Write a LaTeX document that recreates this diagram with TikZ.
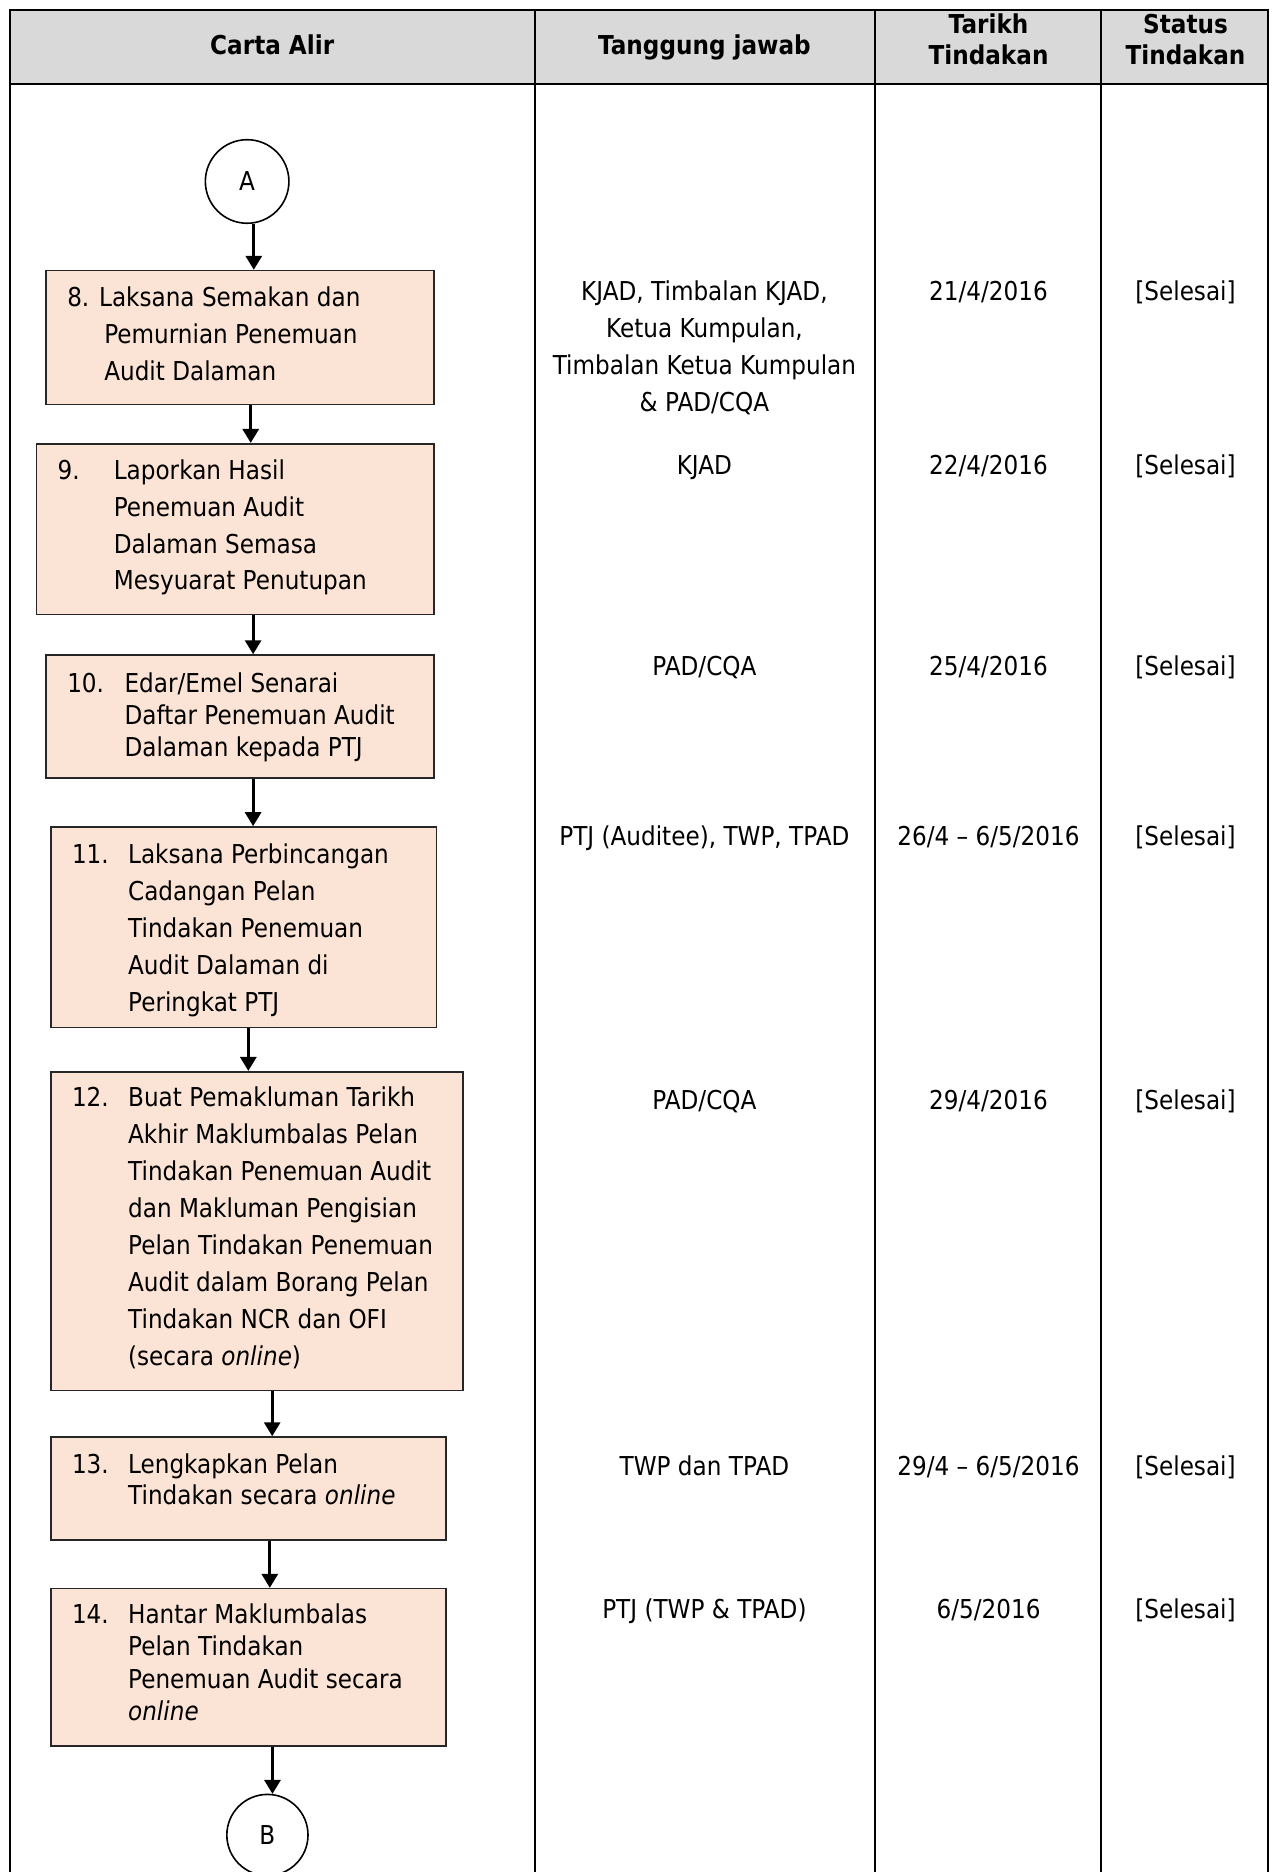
\documentclass[tikz,border=0pt]{standalone}
\usepackage{fontspec}
\setmainfont{DejaVu Sans}[FakeStretch=0.89]
\usetikzlibrary{arrows.meta}
\definecolor{peach}{HTML}{FBE4D5}
\definecolor{hdrgray}{HTML}{D9D9D9}
\newcommand\blines[5]{%
  \foreach \lintext [count=\i] in {#5}
    \node[txt] (#1-\i) at (#2,{#3+(\i-1)*#4}) {\lintext};}
\newcommand\clines[5]{%
  \foreach \lintext [count=\i] in {#5}
    \node[ctxt] (#1-\i) at (#2,{#3+(\i-1)*#4}) {\lintext};}
\begin{document}
\begin{tikzpicture}[x=0.597pt,y=-0.597pt,
  every node/.style={font=\fontsize{13}{18}\selectfont},
  txt/.style={inner sep=0pt,text height=0.72em,text depth=0pt,anchor=west},
  ctxt/.style={inner sep=0pt,text height=0.72em,text depth=0pt,anchor=center},
  hdr/.style={ctxt,font=\fontsize{13}{18}\selectfont\bfseries},
  tbl/.style={line width=1pt,black},
  stepbox/.style={draw=black!85,line width=0.8pt,fill=peach,inner sep=0pt,anchor=north west},
  conn/.style={circle,draw,line width=0.8pt,minimum size=70*0.597pt,inner sep=0pt},
  arr/.style={line width=1.5pt,-{Triangle[width=8pt,length=7pt]}}]
\useasboundingbox (0,0) rectangle (1067,1568);
% table
\fill[hdrgray] (8,8) rectangle (1062,70);
\draw[tbl] (8,1575) -- (8,8) -- (1062,8) -- (1062,1575);
\draw[tbl] (8,70) -- (1062,70);
\draw[tbl] (448,8) -- (448,1575);
\draw[tbl] (733,8) -- (733,1575);
\draw[tbl] (922,8) -- (922,1575);
% headers
\node[hdr] (h1) at (228,40) {Carta Alir};
\node[hdr] (h2) at (590,40) {Tanggung jawab};
\node[hdr] (h3a) at (828,22) {Tarikh};
\node[hdr] (h3b) at (828,48) {Tindakan};
\node[hdr] (h4a) at (993,22) {Status};
\node[hdr] (h4b) at (993,48) {Tindakan};
% connectors circles
\node[conn] (cA) at (207,152) {A};
\node[conn,minimum size=68*0.597pt] (cB) at (224,1537) {B};
% boxes
\node[stepbox,minimum width=325*0.597pt,minimum height=112*0.597pt] (b8) at (38,226) {};
\node[stepbox,minimum width=333*0.597pt,minimum height=143*0.597pt] (b9) at (30,371) {};
\node[stepbox,minimum width=325*0.597pt,minimum height=103*0.597pt] (b10) at (38,548) {};
\node[stepbox,minimum width=323*0.597pt,minimum height=168*0.597pt] (b11) at (42,692) {};
\node[stepbox,minimum width=345*0.597pt,minimum height=267*0.597pt] (b12) at (42,897) {};
\node[stepbox,minimum width=331*0.597pt,minimum height=86*0.597pt] (b13) at (42,1203) {};
\node[stepbox,minimum width=331*0.597pt,minimum height=132*0.597pt] (b14) at (42,1330) {};
% box texts
\node[txt] (t8-1) at (56,251) {8. Laksana Semakan dan};
\blines{t8}{87}{282}{31}{{Pemurnian Penemuan},{Audit Dalaman}}
\node[txt] (n9) at (48,396) {9.};
\blines{t9}{95}{396}{30.7}{{Laporkan Hasil},{Penemuan Audit},{Dalaman Semasa},{Mesyuarat Penutupan}}
\node[txt] (n10) at (56,574) {10.};
\blines{t10}{104}{574}{27}{{Edar/Emel Senarai},{Daftar Penemuan Audit},{Dalaman kepada PTJ}}
\node[txt] (n11) at (60,717) {11.};
\blines{t11}{107}{717}{31}{{Laksana Perbincangan},{Cadangan Pelan},{Tindakan Penemuan},{Audit Dalaman di},{Peringkat PTJ}}
\node[txt] (n12) at (60,921) {12.};
\blines{t12}{107}{921}{31}{{Buat Pemakluman Tarikh},{Akhir Maklumbalas Pelan},{Tindakan Penemuan Audit},{dan Makluman Pengisian},{Pelan Tindakan Penemuan},{Audit dalam Borang Pelan},{Tindakan NCR dan OFI},{(secara \textit{online})}}
\node[txt] (n13) at (60,1228) {13.};
\blines{t13}{107}{1228}{26}{{Lengkapkan Pelan},{Tindakan secara \textit{online}}}
\node[txt] (n14) at (60,1354) {14.};
\blines{t14}{107}{1354}{27}{{Hantar Maklumbalas},{Pelan Tindakan},{Penemuan Audit secara},{\textit{online}}}
% responsibility
\clines{r8}{590}{246}{31}{{KJAD, Timbalan KJAD,},{Ketua Kumpulan,},{Timbalan Ketua Kumpulan},{\& PAD/CQA}}
\node[ctxt] (r9) at (590,391) {KJAD};
\node[ctxt] (r10) at (590,560) {PAD/CQA};
\node[ctxt] (r11) at (590,702) {PTJ (Auditee), TWP, TPAD};
\node[ctxt] (r12) at (590,923) {PAD/CQA};
\node[ctxt] (r13) at (590,1230) {TWP dan TPAD};
\node[ctxt] (r14) at (590,1350) {PTJ (TWP \& TPAD)};
% dates
\node[ctxt] (d8) at (828,246) {21/4/2016};
\node[ctxt] (d9) at (828,391) {22/4/2016};
\node[ctxt] (d10) at (828,560) {25/4/2016};
\node[ctxt] (d11) at (828,702) {26/4 – 6/5/2016};
\node[ctxt] (d12) at (828,923) {29/4/2016};
\node[ctxt] (d13) at (828,1230) {29/4 – 6/5/2016};
\node[ctxt] (d14) at (828,1350) {6/5/2016};
% status
\node[ctxt] (s8) at (993,246) {[Selesai]};
\node[ctxt] (s9) at (993,391) {[Selesai]};
\node[ctxt] (s10) at (993,560) {[Selesai]};
\node[ctxt] (s11) at (993,702) {[Selesai]};
\node[ctxt] (s12) at (993,923) {[Selesai]};
\node[ctxt] (s13) at (993,1230) {[Selesai]};
\node[ctxt] (s14) at (993,1350) {[Selesai]};
% arrows
\coordinate (x8) at (210,0);
\coordinate (x9) at (212,0);
\coordinate (x10) at (212,0);
\coordinate (x11) at (208,0);
\coordinate (x12) at (228,0);
\coordinate (x13) at (226,0);
\draw[arr] (cA.-81) -- (cA.-81 |- b8.north);
\draw[arr] (b8.south -| x8) -- (b9.north -| x8);
\draw[arr] (b9.south -| x9) -- (b10.north -| x9);
\draw[arr] (b10.south -| x10) -- (b11.north -| x10);
\draw[arr] (b11.south -| x11) -- (b12.north -| x11);
\draw[arr] (b12.south -| x12) -- (b13.north -| x12);
\draw[arr] (b13.south -| x13) -- (b14.north -| x13);
\draw[arr] (cB.83 |- b14.south) -- (cB.83);
\end{tikzpicture}
\end{document}
